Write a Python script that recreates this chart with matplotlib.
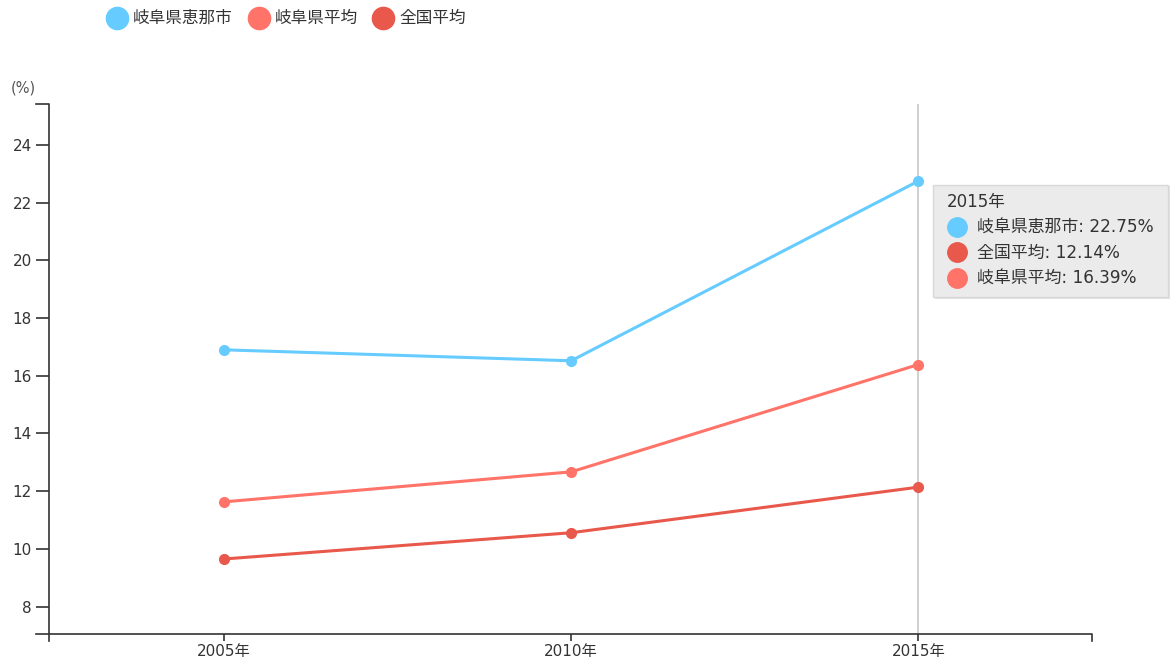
import matplotlib
matplotlib.use("Agg")
import matplotlib.pyplot as plt
from matplotlib.lines import Line2D
from matplotlib.patches import Rectangle

plt.rcParams['font.family'] = ['DejaVu Sans', 'Noto Sans CJK JP']

# データ
years = [2005, 2010, 2015]
year_labels = ["2005年", "2010年", "2015年"]
ena = [16.90, 16.52, 22.75]
gifu = [11.63, 12.67, 16.39]
zenkoku = [9.65, 10.56, 12.14]
series_names = ["岐阜県恵那市", "岐阜県平均", "全国平均"]
colors = ["#66ccff", "#ff7369", "#e8584b"]
yticks = [8, 10, 12, 14, 16, 18, 20, 22, 24]

W, H = 1171, 664
fig = plt.figure(figsize=(W / 100, H / 100), dpi=100)


def fx(x):
    return x / W


def fy(y):
    return 1 - y / H


ax = fig.add_axes([fx(49), fy(634), fx(1092) - fx(49), fy(104) - fy(634)])
ax.set_xlim(2002.48, 2017.5)
ax.set_ylim(7.05, 25.42)

for vals, c in zip([ena, gifu, zenkoku], colors):
    ax.plot(years, vals, color=c, lw=2.2, marker='o', ms=7, zorder=3)

# ホバー線
ax.axvline(2015, color="#c8c8c8", lw=1.2, zorder=1)

# 軸
for s in ax.spines.values():
    s.set_visible(False)
ax.set_yticks(yticks)
ax.set_yticklabels([str(t) for t in yticks])
ax.set_xticks(years)
ax.set_xticklabels(year_labels)
ax.tick_params(axis='y', length=9.5, width=1.2, color="#333333", labelsize=11,
               labelcolor="#333333", pad=3)
ax.tick_params(axis='x', length=5, width=1.2, color="#333333", labelsize=11,
               labelcolor="#333333", pad=2)

tf = fig.transFigure
fig.add_artist(Line2D([fx(36), fx(49), fx(49), fx(49)], [fy(104), fy(104), fy(641), fy(641)],
                      transform=tf, color="#333333", lw=1.2))
fig.add_artist(Line2D([fx(36), fx(1092), fx(1092)], [fy(634), fy(634), fy(641)],
                      transform=tf, color="#333333", lw=1.2))

fig.text(fx(23), fy(88), "(%)", ha='center', va='center', fontsize=10.5, color="#555555")

# 凡例
leg_x = [117, 259, 383]
for x, name, c in zip(leg_x, series_names, colors):
    fig.add_artist(Line2D([fx(x)], [fy(18)], transform=tf, marker='o', ms=16,
                          color=c, lw=0))
    fig.text(fx(x + 16), fy(18), name, ha='left', va='center', fontsize=12,
             color="#333333")

# ツールチップ
fig.add_artist(Rectangle((fx(935), fy(299)), fx(1170) - fx(935), fy(186) - fy(299),
                         transform=tf, facecolor="#d0d0d0", edgecolor='none', alpha=0.6))
fig.add_artist(Rectangle((fx(933), fy(297)), fx(1168) - fx(933), fy(185) - fy(297),
                         transform=tf, facecolor="#ebebeb", edgecolor="#d8d8d8", lw=1))
fig.text(fx(947), fy(202), "2015年", ha='left', va='center', fontsize=12, color="#333333")
tip_rows = [(ena[2], series_names[0], colors[0]),
            (zenkoku[2], series_names[2], colors[2]),
            (gifu[2], series_names[1], colors[1])]
for i, (v, name, c) in enumerate(tip_rows):
    y = 227 + i * 25.5
    fig.add_artist(Line2D([fx(957)], [fy(y)], transform=tf, marker='o', ms=14,
                          color=c, lw=0))
    fig.text(fx(977), fy(y), f"{name}: {v:.2f}%", ha='left', va='center',
             fontsize=12.2, color="#333333")

fig.savefig("out.png", dpi=100)
